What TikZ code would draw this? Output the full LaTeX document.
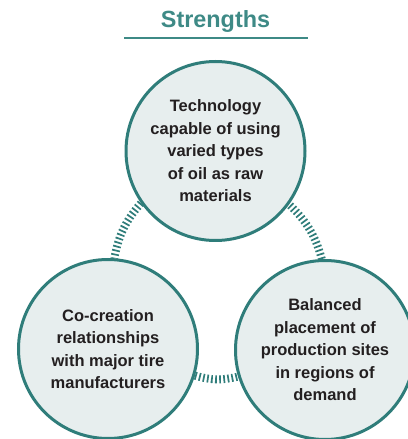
\documentclass[tikz,border=0pt]{standalone}
\usepackage{fontspec}
\setmainfont{Liberation Sans}
\usepackage{xcolor}
\definecolor{myteal}{RGB}{47, 125, 122}
\definecolor{mytitle}{RGB}{62, 138, 134}
\definecolor{myfill}{RGB}{231, 238, 238}
\definecolor{mytext}{RGB}{35, 31, 32}
\usepackage{tikz}
\usetikzlibrary{
    positioning
}
\tikzstyle{staerke} = [
    circle,
    draw=myteal,
    line width=3pt,
    fill=myfill,
    minimum size=179pt,
    inner sep=0pt,
    align=center,
    text=mytext,
    font=\fontsize{16.5}{22.5}\selectfont\bfseries
]
\tikzstyle{schraffur} = [
    draw=myteal,
    line width=8pt,
    dash pattern=on 1.7pt off 2.4pt
]

\begin{document}
\begin{tikzpicture}[x=1pt, y=1pt]

\useasboundingbox (0,0) rectangle (407,439);

% Ueberschrift mit Linie
\node[anchor=base, text=mytitle, font=\fontsize{23.4}{28}\selectfont\bfseries] (titel) at (215.5,411) {Strengths};
\draw[mytitle, line width=2pt] (124,401) -- (308,401);

% Kreise
\node[staerke] (oel) at (215.5,288)
    {Technology\\capable of using\\varied types\\of oil as raw\\materials};
\node[staerke] (reifen) at (108,90)
    {Co-creation\\relationships\\with major tire\\manufacturers};
\node[staerke] (standort) at (325,89)
    {Balanced\\placement of\\production sites\\in regions of\\demand};

% schraffierte Boegen zwischen den Kreisen
\draw[schraffur] (oel.215) to[bend right=15] (reifen.86);
\draw[schraffur] (reifen.-17) to[bend right=15] (standort.197);
\draw[schraffur] (standort.92) to[bend right=15] (oel.-36);

\end{tikzpicture}
\end{document}
